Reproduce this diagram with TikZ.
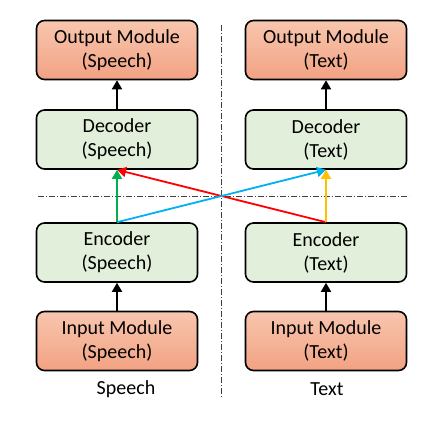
\documentclass[tikz,border=0pt]{standalone}
\usepackage{fontspec}
\setmainfont{Carlito}
\usetikzlibrary{arrows.meta}
\definecolor{orangetop}{HTML}{F8C6AE}
\definecolor{orangebot}{HTML}{F2A283}
\definecolor{greenbox}{HTML}{E2EFDA}
\definecolor{arrgreen}{HTML}{00B050}
\definecolor{arrblue}{HTML}{00B0F0}
\definecolor{arryellow}{HTML}{FFC000}
\definecolor{arrred}{HTML}{FF0000}
\tikzset{
  box/.style={draw=black, line width=1.6pt, rounded corners=8pt, minimum width=161pt, minimum height=59pt, align=center, font=\fontsize{20}{24}\selectfont, inner sep=0pt},
  orangebox/.style={box, top color=orangetop, bottom color=orangebot},
  greenbx/.style={box, fill=greenbox},
  arr/.style={line width=1.8pt, -{Triangle[length=9pt,width=10pt]}},
  sep/.style={line width=0.9pt, black!75, dash pattern=on 6pt off 2pt on 1pt off 2pt},
  lab/.style={font=\fontsize{20}{24}\selectfont, inner sep=0pt}
}
\begin{document}
\begin{tikzpicture}[x=1pt,y=-1pt]
\useasboundingbox (0,0) rectangle (420,422);
\coordinate (vtop) at (221,25);
\coordinate (vbot) at (221,398);
\coordinate (hl) at (38,196);
\coordinate (hr) at (409,196);
\draw[sep] (vtop) -- (vbot);
\draw[sep] (hl) -- (hr);
\node[orangebox] (outS) at (117,50) {Output Module\\(Speech)};
\node[greenbx] (decS) at (117,139.5) {Decoder\\(Speech)};
\node[greenbx] (encS) at (117,252.5) {Encoder\\(Speech)};
\node[orangebox] (inS) at (117,341) {Input Module\\(Speech)};
\node[orangebox] (outT) at (326,50) {Output Module\\(Text)};
\node[greenbx] (decT) at (326,139.5) {Decoder\\(Text)};
\node[greenbx] (encT) at (326,252.5) {Encoder\\(Text)};
\node[orangebox] (inT) at (326,341) {Input Module\\(Text)};
\node[lab] (labS) at (126,389) {Speech};
\node[lab] (labT) at (327,389) {Text};
\draw[arr] (decS.north) -- (outS.south);
\draw[arr] (inS.north) -- (encS.south);
\draw[arr] (decT.north) -- (outT.south);
\draw[arr] (inT.north) -- (encT.south);
\draw[arr, arrred] (encT.north) -- (decS.south);
\draw[arr, arrblue] (encS.north) -- (decT.south);
\draw[arr, arrgreen] (encS.north) -- (decS.south);
\draw[arr, arryellow] (encT.north) -- (decT.south);
\end{tikzpicture}
\end{document}
